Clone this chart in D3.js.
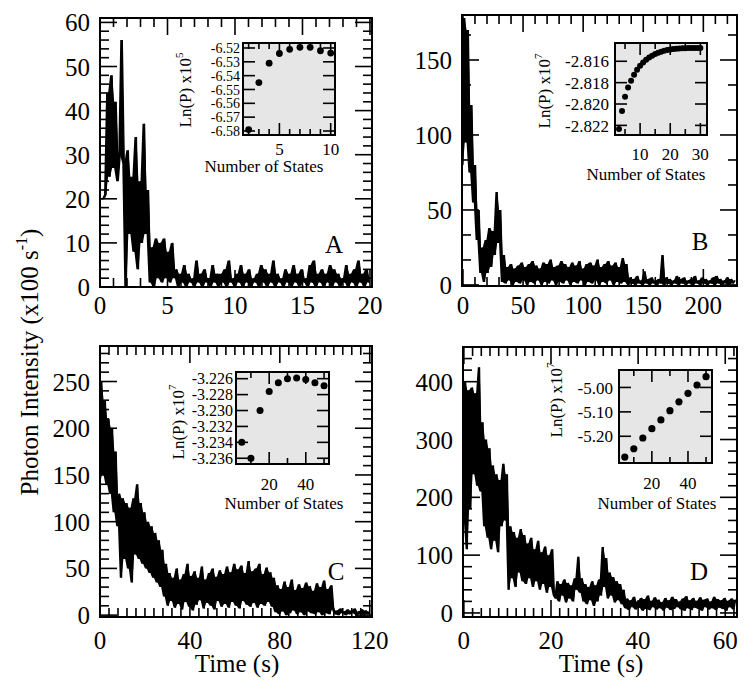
<!DOCTYPE html>
<html><head><meta charset="utf-8">
<script src="https://cdn.jsdelivr.net/npm/d3@7"></script>
<style>html,body{margin:0;padding:0;background:#fff}</style>
</head><body><svg id="c" width="751" height="688"></svg>
<script>
// ---------------- DATA ----------------
const stepA = 0.15;
const intensityA = [20,20,20,21,
 44,25,48,27,42,24,30,56,28,0,
 31,12,25,8,34,4,24,10,37,12,22,1,
 9,0,11,2,10,1,11,2,8,1,10,2,
 4,0,3,1,5,0,3,1,2,0,6,1,3,0,4,1,2,0,5,1,3,0,3,1,4,0,6,1,2,0,3,1,5,0,3,1,4,0,2,1,3,0,5,1,4,0,3,1,
 6,0,3,1,2,0,4,1,3,0,5,1,3,0,4,1,2,0,5,1,6,0,3,1,4,0,3,1,5,0,4,1,3,0,2,1,5,0,3,1,4,0,6,1,3,0,4,1];

const stepB = 1.5;
const intensityB = [80,178,95,170,75,120,55,80,30,50,8,25,2,30,8,38,12,36,20,62,28,50,
 2,20,1,12,3,14,0,11,2,13,1,15,3,12,0,14,2,16,1,13,3,11,0,15,2,14,1,17,3,12,0,13,2,16,1,14,
 3,12,0,15,2,13,1,16,3,11,0,14,2,15,1,13,3,17,0,12,2,14,1,16,3,13,0,15,2,12,1,18,2,14,
 0,5,1,4,0,6,1,3,0,9,1,4,0,5,1,3,0,4,1,20,0,5,1,4,0,3,1,6,0,4,1,5,0,3,1,4,0,6,1,3,
 0,5,1,4,0,3,1,5,0,6,1,4,0,3,1,5,0,4,1,3];

const stepC = 0.8;
const intensityC = [140,250,150,230,140,210,
 130,200,110,175,95,
 130,40,125,60,120,50,115,35,125,65,140,60,120,55,110,50,100,45,95,40,
 88,35,80,30,70,20,55,
 10,45,15,40,8,50,12,38,6,44,14,55,9,42,5,47,11,40,16,52,7,38,13,45,10,50,6,41,15,48,
 9,44,12,52,8,46,14,55,10,49,7,53,15,45,11,58,9,47,13,50,8,55,12,44,10,51,14,46,9,40,
 3,32,1,28,4,36,0,30,2,38,5,27,1,33,3,29,0,35,4,31,2,26,1,34,3,30,0,37,2,28,1,32,
 6,1,5,0,7,2,4,0,6,1,5,2,7,0,4,1,6,0,5,1,4];

const stepD = 0.4;
const intensityD = [160,400,110,385,180,
 390,240,380,220,425,210,
 330,150,300,130,285,
 110,255,125,240,105,230,
 150,258,160,240,
 40,150,60,140,45,130,70,145,55,
 135,50,120,60,130,45,110,55,125,40,105,50,115,35,100,45,110,30,
 25,55,20,50,30,58,18,52,25,48,20,60,
 40,97,35,
 60,20,50,15,45,22,55,12,48,20,58,
 30,114,45,95,
 25,70,30,62,18,55,22,50,15,40,
 8,25,5,22,10,28,6,20,9,26,4,24,7,30,5,21,10,27,6,23,8,19,4,26,9,22,5,28,7,24,
 10,20,6,25,4,29,8,22,5,26,9,21,7,27,4,23,10,25,6,20,8,28,5,24,9,22,7,26,4,21,10,25,6,23];

const statesA = [2,3,4,5,6,7,8,9,10];
const lnpA = [-6.579,-6.545,-6.531,-6.524,-6.521,-6.5195,-6.5195,-6.522,-6.5237];
const statesB = [3,4,5,6,7,8,9,10,11,12,13,14,15,16,17,18,19,20,21,22,23,24,25,26,27,28,29,30];
const lnpB = [-2.82234,-2.82065,-2.81931,-2.81846,-2.81783,-2.81727,-2.8168,-2.81642,-2.81611,-2.81586,
 -2.81564,-2.81548,-2.81532,-2.8152,-2.81511,-2.81501,-2.81495,-2.81489,-2.81485,-2.81483,
 -2.8148,-2.81479,-2.81477,-2.81476,-2.81476,-2.81475,-2.81475,-2.81475];
const statesC = [5,10,15,20,25,30,35,40,45,50];
const lnpC = [-3.2340,-3.2360,-3.2300,-3.2276,-3.2265,-3.2260,-3.2259,-3.2261,-3.2265,-3.2269];
const statesD = [5,10,15,20,25,30,35,40,45,50];
const lnpD = [-5.285,-5.251,-5.207,-5.169,-5.133,-5.095,-5.059,-5.024,-4.990,-4.956];

const xTicksA = [0,5,10,15,20], yTicksA = [0,10,20,30,40,50,60];
const xTicksB = [0,50,100,150,200], yTicksB = [0,50,100,150];
const xTicksC = [0,40,80,120], yTicksC = [0,50,100,150,200,250];
const xTicksD = [0,20,40,60], yTicksD = [0,100,200,300,400];
const inXTicksA = [5,10], inYTicksA = [-6.58,-6.57,-6.56,-6.55,-6.54,-6.53,-6.52];
const inXTicksB = [10,20,30], inYTicksB = [-2.822,-2.820,-2.818,-2.816];
const inXTicksC = [20,40], inYTicksC = [-3.236,-3.234,-3.232,-3.230,-3.228,-3.226];
const inXTicksD = [20,40], inYTicksD = [-5.20,-5.10,-5.00];

const yTitleText = 'Photon Intensity (x100 s', yTitleSup = '-1', yTitleEnd = ')';
const xTitleText = 'Time (s)';
const insetXTitle = 'Number of States';

// ---------------- DRAW ----------------
const svg = d3.select('#c');
const FONT = 'Liberation Serif, Times New Roman, Times, serif';

function minorVals(dom, step, majors) {
  const a = Math.min(dom[0], dom[1]), b = Math.max(dom[0], dom[1]);
  const out = [];
  for (let k = Math.ceil(a / step - 1e-9); k <= Math.floor(b / step + 1e-9); k++) {
    const v = +(k * step).toFixed(6);
    if (!majors.some(m => Math.abs(m - v) < step * 1e-3)) out.push(v);
  }
  return out;
}

// one set of tick lines bound to tick values (same pattern as the tick labels)
function tickSet(g, cls, vals, fx1, fy1, fx2, fy2) {
  g.selectAll('line.' + cls).data(vals).join('line').attr('class', cls)
    .attr('x1', fx1).attr('y1', fy1).attr('x2', fx2).attr('y2', fy2)
    .attr('stroke', '#000').attr('stroke-width', 1.6);
}

function allTicks(g, x, y, b, xMaj, xMin, yMaj, yMin, lMaj, lMin) {
  const xin = v => { const px = x(v); return px >= b.x0 - 0.5 && px <= b.x1 + 0.5; };
  const yin = v => { const py = y(v); return py >= b.y0 - 0.5 && py <= b.y1 + 0.5; };
  [[xMaj.filter(xin), lMaj, 'M'], [xMin.filter(xin), lMin, 'm']].forEach(([vals, len, k]) => {
    tickSet(g, 'tb' + k, vals, d => x(d), b.y1, d => x(d), b.y1 - len);
    tickSet(g, 'tt' + k, vals, d => x(d), b.y0, d => x(d), b.y0 + len);
  });
  [[yMaj.filter(yin), lMaj, 'M'], [yMin.filter(yin), lMin, 'm']].forEach(([vals, len, k]) => {
    tickSet(g, 'tl' + k, vals, b.x0, d => y(d), b.x0 + len, d => y(d));
    tickSet(g, 'tr' + k, vals, b.x1, d => y(d), b.x1 - len, d => y(d));
  });
}

const panels = [
  {vals: intensityA, step: stepA, box: {x0:100,x1:372,y0:18,y1:287}, xd:[0,20.15], yd:[0,61],
   xt: xTicksA, yt: yTicksA, xMinor: 1, yMinor: 2, xLabY: 314, letter: 'A', lx: 334, ly: 253},
  {vals: intensityB, step: stepB, box: {x0:462,x1:737,y0:15,y1:286}, xd:[-0.8,228], yd:[-0.7,180],
   xt: xTicksB, yt: yTicksB, xMinor: 10, yMinor: 50/3, xLabY: 314, letter: 'B', lx: 700, ly: 250},
  {vals: intensityC, step: stepC, box: {x0:100,x1:372,y0:346,y1:617}, xd:[0,121], yd:[-2,288],
   xt: xTicksC, yt: yTicksC, xMinor: 4, yMinor: 10, xLabY: 649, letter: 'C', lx: 336, ly: 580, title: 237},
  {vals: intensityD, step: stepD, box: {x0:463,x1:737,y0:347,y1:617}, xd:[-0.2,62.7], yd:[-7,460],
   xt: xTicksD, yt: yTicksD, xMinor: 2, yMinor: 20, xLabY: 649, letter: 'D', lx: 699, ly: 580, title: 601}
];

const insets = [
  {states: statesA, lnp: lnpA, box: {x0:243,x1:335,y0:43,y1:135}, xd:[1.45,10.42], yd:[-6.5829,-6.5164],
   xt: inXTicksA, xMinor: 1, yt: inYTicksA, fmt: d3.format('.2f'), yLabR: 240, yLabSize: 14, xLabY: 155,
   tx: 264, ty: 172, lx: 191, ly: 90, exp: '5', r: 3.4},
  {states: statesB, lnp: lnpB, box: {x0:615,x1:707,y0:43,y1:135}, xd:[1.67,32.2], yd:[-2.8229,-2.81429],
   xt: inXTicksB, xMinor: 5, yt: inYTicksB, fmt: d3.format('.3f'), yLabR: 609, yLabSize: 17, xLabY: 160,
   tx: 646, ty: 180, lx: 550, ly: 91, exp: '7', r: 3.0},
  {states: statesC, lnp: lnpC, box: {x0:236,x1:329,y0:372,y1:464}, xd:[1.85,52.7], yd:[-3.23672,-3.22516],
   xt: inXTicksC, xMinor: 10, yt: inYTicksC, fmt: d3.format('.3f'), yLabR: 233, yLabSize: 16, xLabY: 490,
   tx: 284, ty: 509, lx: 184, ly: 422, exp: '7', r: 3.5},
  {states: statesD, lnp: lnpD, box: {x0:619,x1:712,y0:370,y1:463}, xd:[1.8,53.3], yd:[-5.3094,-4.9286],
   xt: inXTicksD, xMinor: 10, yt: inYTicksD, fmt: d3.format('.2f'), yLabR: 613, yLabSize: 17, xLabY: 489,
   tx: 657, ty: 509, lx: 562, ly: 400, exp: '7', r: 3.6}
];

const fmtDash = s => s.replace('\u2212', '-');

panels.forEach((p, pi) => {
  const g = svg.append('g');
  const b = p.box;
  const x = d3.scaleLinear().domain(p.xd).range([b.x0, b.x1]);
  const y = d3.scaleLinear().domain(p.yd).range([b.y1, b.y0]);
  const cid = 'clip' + pi;
  svg.append('clipPath').attr('id', cid).append('rect')
    .attr('x', b.x0).attr('y', b.y0).attr('width', b.x1 - b.x0).attr('height', b.y1 - b.y0);
  const vals = p.vals;
  g.append('path').datum(vals)
    .attr('clip-path', `url(#${cid})`)
    .attr('d', d3.area().x((d, i) => x(i * p.step))
      .y0((d, i) => y(Math.min(d, i + 1 < vals.length ? vals[i + 1] : d)))
      .y1((d, i) => y(Math.max(d, i + 1 < vals.length ? vals[i + 1] : d))))
    .attr('fill', '#000');
  g.append('path').datum(vals)
    .attr('clip-path', `url(#${cid})`)
    .attr('d', d3.line().x((d, i) => x(i * p.step)).y(d => y(d)))
    .attr('fill', 'none').attr('stroke', '#000').attr('stroke-width', 1.3)
    .attr('stroke-linejoin', 'bevel');
  allTicks(g, x, y, b, p.xt, minorVals(p.xd, p.xMinor, p.xt), p.yt, minorVals(p.yd, p.yMinor, p.yt), 17, 9);
  g.append('rect').attr('x', b.x0).attr('y', b.y0).attr('width', b.x1 - b.x0).attr('height', b.y1 - b.y0)
    .attr('fill', 'none').attr('stroke', '#000').attr('stroke-width', 2);
  g.selectAll('text.xl').data(p.xt).join('text').attr('class', 'xl')
    .attr('x', d => x(d)).attr('y', p.xLabY).attr('text-anchor', 'middle')
    .attr('font-family', FONT).attr('font-size', 25).text(d => d);
  g.selectAll('text.yl').data(p.yt).join('text').attr('class', 'yl')
    .attr('x', b.x0 - 10).attr('y', d => y(d)).attr('dy', '0.36em').attr('text-anchor', 'end')
    .attr('font-family', FONT).attr('font-size', 25).text(d => d);
  g.append('text').attr('x', p.lx).attr('y', p.ly).attr('text-anchor', 'middle')
    .attr('font-family', FONT).attr('font-size', 25).text(p.letter);
  if (p.title) {
    g.append('text').attr('x', p.title).attr('y', 672).attr('text-anchor', 'middle')
      .attr('font-family', FONT).attr('font-size', 25).text(xTitleText);
  }
});

insets.forEach(s => {
  const g = svg.append('g');
  const b = s.box;
  const x = d3.scaleLinear().domain(s.xd).range([b.x0, b.x1]);
  const y = d3.scaleLinear().domain(s.yd).range([b.y1, b.y0]);
  g.append('rect').attr('x', b.x0).attr('y', b.y0).attr('width', b.x1 - b.x0).attr('height', b.y1 - b.y0)
    .attr('fill', '#e6e6e6');
  allTicks(g, x, y, b, s.xt, minorVals(s.xd, s.xMinor, s.xt), s.yt, [], 12, 6);
  g.append('rect').attr('x', b.x0).attr('y', b.y0).attr('width', b.x1 - b.x0).attr('height', b.y1 - b.y0)
    .attr('fill', 'none').attr('stroke', '#000').attr('stroke-width', 2);
  g.selectAll('circle').data(s.states).join('circle')
    .attr('cx', d => x(d)).attr('cy', (d, i) => y(s.lnp[i])).attr('r', s.r).attr('fill', '#000');
  g.selectAll('text.xl').data(s.xt).join('text').attr('class', 'xl')
    .attr('x', d => x(d)).attr('y', s.xLabY).attr('text-anchor', 'middle')
    .attr('font-family', FONT).attr('font-size', 17).text(d => d);
  g.selectAll('text.yl').data(s.yt).join('text').attr('class', 'yl')
    .attr('x', s.yLabR).attr('y', d => y(d)).attr('dy', '0.36em').attr('text-anchor', 'end')
    .attr('font-family', FONT).attr('font-size', s.yLabSize).text(d => fmtDash(s.fmt(d)));
  g.append('text').attr('x', s.tx).attr('y', s.ty).attr('text-anchor', 'middle')
    .attr('font-family', FONT).attr('font-size', 17).text(insetXTitle);
  const t = g.append('text').attr('transform', `translate(${s.lx},${s.ly}) rotate(-90)`)
    .attr('text-anchor', 'middle').attr('font-family', FONT).attr('font-size', 17);
  t.append('tspan').text('Ln(P) x10');
  t.append('tspan').attr('font-size', 11).attr('dy', -8).text(s.exp);
});

const yTitle = svg.append('text').attr('transform', 'translate(38,362) rotate(-90)')
  .attr('text-anchor', 'middle').attr('font-family', FONT).attr('font-size', 25);
yTitle.append('tspan').text(yTitleText);
yTitle.append('tspan').attr('font-size', 16).attr('dy', -11).text(yTitleSup);
yTitle.append('tspan').attr('dy', 11).text(yTitleEnd);
</script></body></html>
